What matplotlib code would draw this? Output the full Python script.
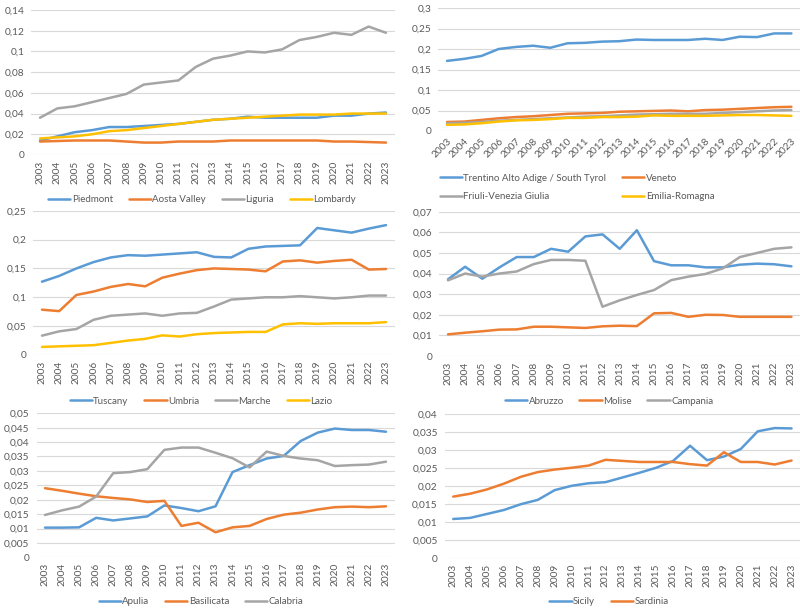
import matplotlib
matplotlib.use("Agg")
import matplotlib.pyplot as plt
from matplotlib.ticker import FuncFormatter
import numpy as np

years = list(range(2003, 2024))

# Panel 1
piedmont = [0.014, 0.018, 0.022, 0.024, 0.027, 0.027, 0.028, 0.029, 0.030, 0.032, 0.034,
            0.035, 0.037, 0.036, 0.036, 0.036, 0.036, 0.038, 0.038, 0.040, 0.041]
aosta = [0.013, 0.0135, 0.014, 0.014, 0.014, 0.013, 0.012, 0.012, 0.013, 0.013, 0.013,
         0.014, 0.014, 0.014, 0.014, 0.014, 0.014, 0.013, 0.013, 0.0125, 0.012]
liguria = [0.036, 0.045, 0.047, 0.051, 0.055, 0.059, 0.068, 0.070, 0.072, 0.085, 0.093,
           0.096, 0.100, 0.099, 0.102, 0.111, 0.114, 0.118, 0.116, 0.124, 0.118]
lombardy = [0.016, 0.017, 0.018, 0.020, 0.023, 0.024, 0.026, 0.028, 0.030, 0.032, 0.034,
            0.035, 0.036, 0.037, 0.038, 0.039, 0.039, 0.039, 0.040, 0.040, 0.040]

# Panel 2
trentino = [0.171, 0.176, 0.183, 0.200, 0.205, 0.208, 0.203, 0.214, 0.215, 0.218, 0.219,
            0.223, 0.222, 0.222, 0.222, 0.225, 0.222, 0.230, 0.229, 0.238, 0.238]
veneto = [0.022, 0.023, 0.027, 0.031, 0.034, 0.036, 0.039, 0.042, 0.043, 0.044, 0.047,
          0.048, 0.049, 0.050, 0.048, 0.051, 0.052, 0.054, 0.056, 0.058, 0.059]
friuli = [0.019, 0.020, 0.022, 0.025, 0.027, 0.029, 0.031, 0.033, 0.035, 0.036, 0.038,
          0.040, 0.041, 0.042, 0.042, 0.042, 0.044, 0.046, 0.048, 0.050, 0.051]
emilia = [0.015, 0.016, 0.019, 0.023, 0.026, 0.027, 0.029, 0.032, 0.032, 0.034, 0.034,
          0.035, 0.038, 0.037, 0.037, 0.037, 0.038, 0.039, 0.039, 0.038, 0.037]

# Panel 3
tuscany = [0.127, 0.137, 0.150, 0.161, 0.169, 0.173, 0.172, 0.174, 0.176, 0.178, 0.170,
           0.169, 0.184, 0.188, 0.189, 0.190, 0.220, 0.216, 0.212, 0.219, 0.225]
umbria = [0.0785, 0.076, 0.104, 0.110, 0.118, 0.123, 0.119, 0.134, 0.141, 0.147, 0.150,
          0.149, 0.148, 0.145, 0.162, 0.164, 0.160, 0.163, 0.165, 0.148, 0.149]
marche = [0.0335, 0.041, 0.045, 0.061, 0.068, 0.070, 0.072, 0.068, 0.072, 0.073, 0.084,
          0.096, 0.098, 0.100, 0.100, 0.102, 0.100, 0.098, 0.100, 0.103, 0.103]
lazio = [0.014, 0.015, 0.016, 0.017, 0.021, 0.025, 0.028, 0.034, 0.032, 0.036, 0.038,
         0.039, 0.040, 0.040, 0.053, 0.055, 0.054, 0.055, 0.055, 0.055, 0.057]

# Panel 4
abruzzo = [0.0372, 0.0433, 0.0375, 0.043, 0.048, 0.048, 0.052, 0.0506, 0.058, 0.059, 0.052,
           0.061, 0.046, 0.044, 0.044, 0.043, 0.043, 0.0443, 0.0448, 0.0445, 0.0435]
molise = [0.0105, 0.0113, 0.012, 0.0128, 0.0129, 0.0142, 0.0142, 0.0139, 0.0136, 0.0144, 0.0147,
          0.0145, 0.0207, 0.0209, 0.019, 0.020, 0.0199, 0.019, 0.019, 0.019, 0.019]
campania = [0.0367, 0.040, 0.0385, 0.040, 0.041, 0.0446, 0.0466, 0.0466, 0.0462, 0.0239, 0.027,
            0.0296, 0.032, 0.0368, 0.0385, 0.0398, 0.0425, 0.048, 0.050, 0.052, 0.0527]

# Panel 5
apulia = [0.0103, 0.0103, 0.0104, 0.0137, 0.0128, 0.0135, 0.0142, 0.018, 0.0171, 0.016, 0.0177,
          0.0296, 0.032, 0.0343, 0.0352, 0.0404, 0.0433, 0.0447, 0.0442, 0.0442, 0.0436]
basilicata = [0.024, 0.0231, 0.0221, 0.0212, 0.0206, 0.0201, 0.0192, 0.0196, 0.0109, 0.012, 0.0087,
              0.0104, 0.0109, 0.0133, 0.0148, 0.0155, 0.0166, 0.0174, 0.0176, 0.0174, 0.0177]
calabria = [0.0147, 0.0163, 0.0176, 0.0211, 0.0292, 0.0296, 0.0306, 0.0373, 0.0381, 0.0381, 0.0363,
            0.0344, 0.0312, 0.0367, 0.0352, 0.0343, 0.0337, 0.0317, 0.032, 0.0322, 0.0332]

# Panel 6
sicily = [0.0109, 0.0112, 0.0123, 0.0134, 0.015, 0.0162, 0.0189, 0.0201, 0.0208, 0.0211, 0.0224,
          0.0237, 0.0251, 0.027, 0.0312, 0.0272, 0.0282, 0.0303, 0.0352, 0.0361, 0.036]
sardinia = [0.0171, 0.0179, 0.0191, 0.0207, 0.0226, 0.0239, 0.0246, 0.0251, 0.0257, 0.0273, 0.027,
            0.0267, 0.0267, 0.0267, 0.0261, 0.0257, 0.0294, 0.0267, 0.0267, 0.026, 0.0271]

BLUE, ORANGE, GRAY, YELLOW = "#5B9BD5", "#ED7D31", "#A5A5A5", "#FFC000"
TXT = "#595959"

plt.rcParams['font.family'] = ['Lato', 'DejaVu Sans']

W, H = 800, 609
fig = plt.figure(figsize=(W / 100, H / 100), dpi=100)


def add_ax(left, right, top, bottom):
    return fig.add_axes([left / W, 1 - bottom / H, (right - left) / W, (bottom - top) / H])


def fmt(v, pos):
    s = f"{v:.4f}".rstrip('0').rstrip('.')
    return s.replace('.', ',')


panels = [
    dict(box=(31.4, 394.6, 10, 155), ymax=0.14, step=0.02, rot=90,
         series=[(piedmont, "Piedmont", BLUE), (aosta, "Aosta Valley", ORANGE),
                 (liguria, "Liguria", GRAY), (lombardy, "Lombardy", YELLOW)],
         leg=(202, 200), ncol=4, order=[0, 1, 2, 3]),
    dict(box=(438.4, 800, 8, 131), ymax=0.3, step=0.05, rot=45,
         series=[(trentino, "Trentino Alto Adige / South Tyrol", BLUE), (veneto, "Veneto", ORANGE),
                 (friuli, "Friuli-Venezia Giulia", GRAY), (emilia, "Emilia-Romagna", YELLOW)],
         leg=(577, 187.5), ncol=2, order=[0, 2, 1, 3]),
    dict(box=(33.4, 394.6, 210.7, 355), ymax=0.25, step=0.05, rot=90,
         series=[(tuscany, "Tuscany", BLUE), (umbria, "Umbria", ORANGE),
                 (marche, "Marche", GRAY), (lazio, "Lazio", YELLOW)],
         leg=(201, 401), ncol=4, order=[0, 1, 2, 3]),
    dict(box=(439.4, 800, 211.7, 356), ymax=0.07, step=0.01, rot=90,
         series=[(abruzzo, "Abruzzo", BLUE), (molise, "Molise", ORANGE),
                 (campania, "Campania", GRAY)],
         leg=(609, 401), ncol=3, order=[0, 1, 2]),
    dict(box=(36.5, 394.5, 413.3, 557.3), ymax=0.05, step=0.005, rot=90,
         series=[(apulia, "Apulia", BLUE), (basilicata, "Basilicata", ORANGE),
                 (calabria, "Calabria", GRAY)],
         leg=(201, 602), ncol=3, order=[0, 1, 2]),
    dict(box=(444.8, 800, 414, 558.3), ymax=0.04, step=0.005, rot=90,
         series=[(sicily, "Sicily", BLUE), (sardinia, "Sardinia", ORANGE)],
         leg=(609, 602), ncol=2, order=[0, 1]),
]

FS = 7.3
LFS = 7.0
for p in panels:
    l, r, t, b = p['box']
    ax = add_ax(l, r, t, b)
    for vals, name, col in p['series']:
        ax.plot(years, vals, color=col, lw=1.8, label=name, solid_capstyle='round')
    ax.set_xlim(2002.5, 2023.5)
    ax.set_ylim(0, p['ymax'])
    ticks = np.round(np.arange(0, p['ymax'] + p['step'] / 2, p['step']), 4)
    ax.set_yticks(ticks)
    ax.yaxis.set_major_formatter(FuncFormatter(fmt))
    ax.set_xticks(years)
    if p['rot'] == 90:
        ax.set_xticklabels([str(y) for y in years], rotation=90)
    else:
        ax.set_xticklabels([str(y) for y in years], rotation=45, ha='right',
                           rotation_mode='anchor')
    ax.grid(axis='y', color='#D9D9D9', lw=0.8)
    ax.set_axisbelow(True)
    for s in ax.spines.values():
        s.set_visible(False)
    ax.tick_params(axis='both', length=0, labelsize=FS, colors=TXT, pad=4)
    ax.tick_params(axis='y', pad=5)
    lines = ax.get_lines()
    handles = [lines[i] for i in p['order']]
    cx, cy = p['leg']
    fig.legend(handles=handles, loc='center', bbox_to_anchor=(cx / W, 1 - cy / H),
               ncol=p['ncol'], frameon=False, fontsize=LFS, handlelength=2.3,
               handletextpad=0.15, columnspacing=1.6, labelspacing=0.95,
               labelcolor=TXT, borderaxespad=0, borderpad=0)

fig.savefig("out.png", dpi=100, facecolor='white')
